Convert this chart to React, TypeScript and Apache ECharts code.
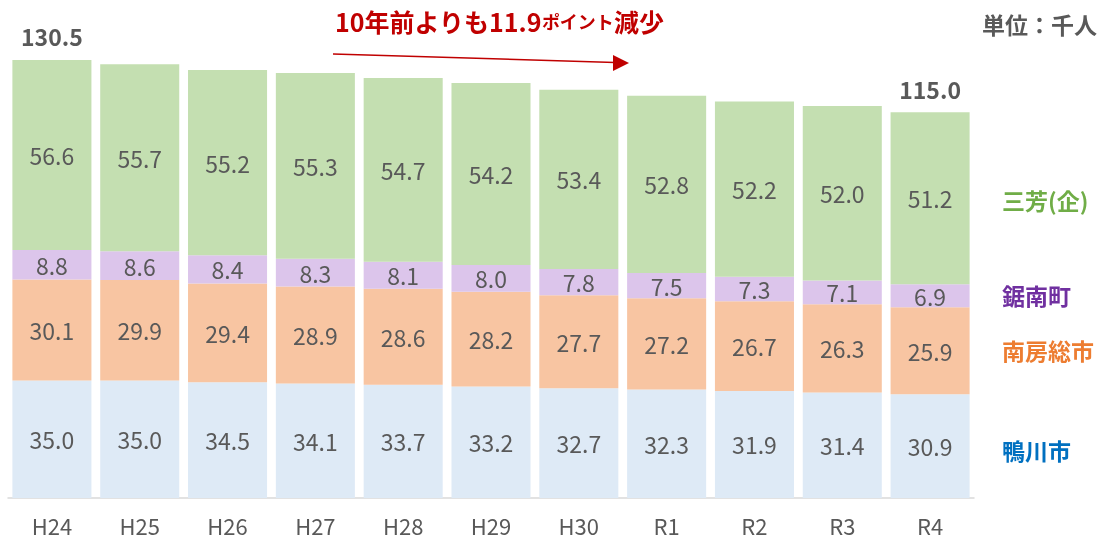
import React, { useEffect, useRef } from "react";
import * as echarts from "echarts";

const categories = ["H24", "H25", "H26", "H27", "H28", "H29", "H30", "R1", "R2", "R3", "R4"];
const kamogawa = [35.0, 35.0, 34.5, 34.1, 33.7, 33.2, 32.7, 32.3, 31.9, 31.4, 30.9];
const minamiboso = [30.1, 29.9, 29.4, 28.9, 28.6, 28.2, 27.7, 27.2, 26.7, 26.3, 25.9];
const kyonan = [8.8, 8.6, 8.4, 8.3, 8.1, 8.0, 7.8, 7.5, 7.3, 7.1, 6.9];
const miyoshi = [56.6, 55.7, 55.2, 55.3, 54.7, 54.2, 53.4, 52.8, 52.2, 52.0, 51.2];
const totalLabels = ["130.5", "", "", "", "", "", "", "", "", "", "115.0"];

const seriesNames = ["鴨川市", "南房総市", "鋸南町", "三芳(企)"];
const fillColors = ["#DEEAF6", "#F8C5A2", "#DCC5EB", "#C4DFB1"];
const nameColors = ["#0070C0", "#ED7D31", "#7030A0", "#70AD47"];

const FONT = "'Noto Sans CJK JP', 'Noto Sans', sans-serif";

export default function App() {
  const ref = useRef<HTMLDivElement>(null);
  useEffect(() => {
    if (!ref.current) return;
    const chart = echarts.init(ref.current, null, { renderer: "svg" });
    const data = [kamogawa, minamiboso, kyonan, miyoshi];
    const series: any[] = data.map((d, i) => ({
      name: seriesNames[i],
      type: "bar",
      stack: "total",
      barCategoryGap: "10%",
      data: d,
      itemStyle: { color: fillColors[i] },
      label: {
        show: true,
        position: "inside",
        color: "#595959",
        fontSize: 23,
        fontFamily: FONT,
        formatter: (p: any) => Number(p.value).toFixed(1),
      },
    }));
    series.push({
      name: "total",
      type: "bar",
      stack: "total",
      data: totalLabels.map(() => 0),
      itemStyle: { color: "transparent" },
      label: {
        show: true,
        position: "top",
        distance: 12,
        color: "#595959",
        fontSize: 23,
        fontWeight: "bold",
        fontFamily: FONT,
        formatter: (p: any) => totalLabels[p.dataIndex],
      },
    });
    chart.setOption({
      animation: false,
      grid: { left: 8, right: 137, top: 28, bottom: 47 },
      xAxis: {
        type: "category",
        data: categories,
        axisLine: { show: true, lineStyle: { color: "#D9D9D9", width: 1.5 } },
        axisTick: { show: false },
        axisLabel: { color: "#595959", fontSize: 22, fontFamily: FONT, margin: 16 },
      },
      yAxis: { type: "value", min: 0, max: 140, show: false, splitLine: { show: false } },
      series,
      graphic: [
        {
          type: "text",
          x: 982,
          y: 24,
          style: { text: "単位：千人", fill: "#595959", fontSize: 23, fontWeight: "bold", fontFamily: FONT, verticalAlign: "middle" },
        },
        {
          type: "text",
          x: 335,
          y: 21,
          style: {
            text: "{a|10年前よりも11.9}{b|ポイント}{a|減少}",
            verticalAlign: "middle",
            rich: {
              a: { fill: "#C00000", fontSize: 25, fontWeight: "bold", fontFamily: FONT },
              b: { fill: "#C00000", fontSize: 18, fontWeight: "bold", fontFamily: FONT },
            },
          },
        },
        {
          type: "line",
          shape: { x1: 333, y1: 54, x2: 615, y2: 62.5 },
          style: { stroke: "#C00000", lineWidth: 1.5 },
        },
        {
          type: "polygon",
          shape: { points: [[613, 55], [629, 63], [613, 71]] },
          style: { fill: "#C00000" },
        },
        ...seriesNames.map((n, i) => ({
          type: "text",
          x: 1002,
          y: [450, 350, 295, 200][i],
          style: { text: n, fill: nameColors[i], fontSize: 23, fontWeight: "bold", fontFamily: FONT, verticalAlign: "middle" },
        })),
      ],
    });
    return () => chart.dispose();
  }, []);
  return <div ref={ref} style={{ position: "fixed", left: 0, top: 0, width: 1111, height: 545 }} />;
}
